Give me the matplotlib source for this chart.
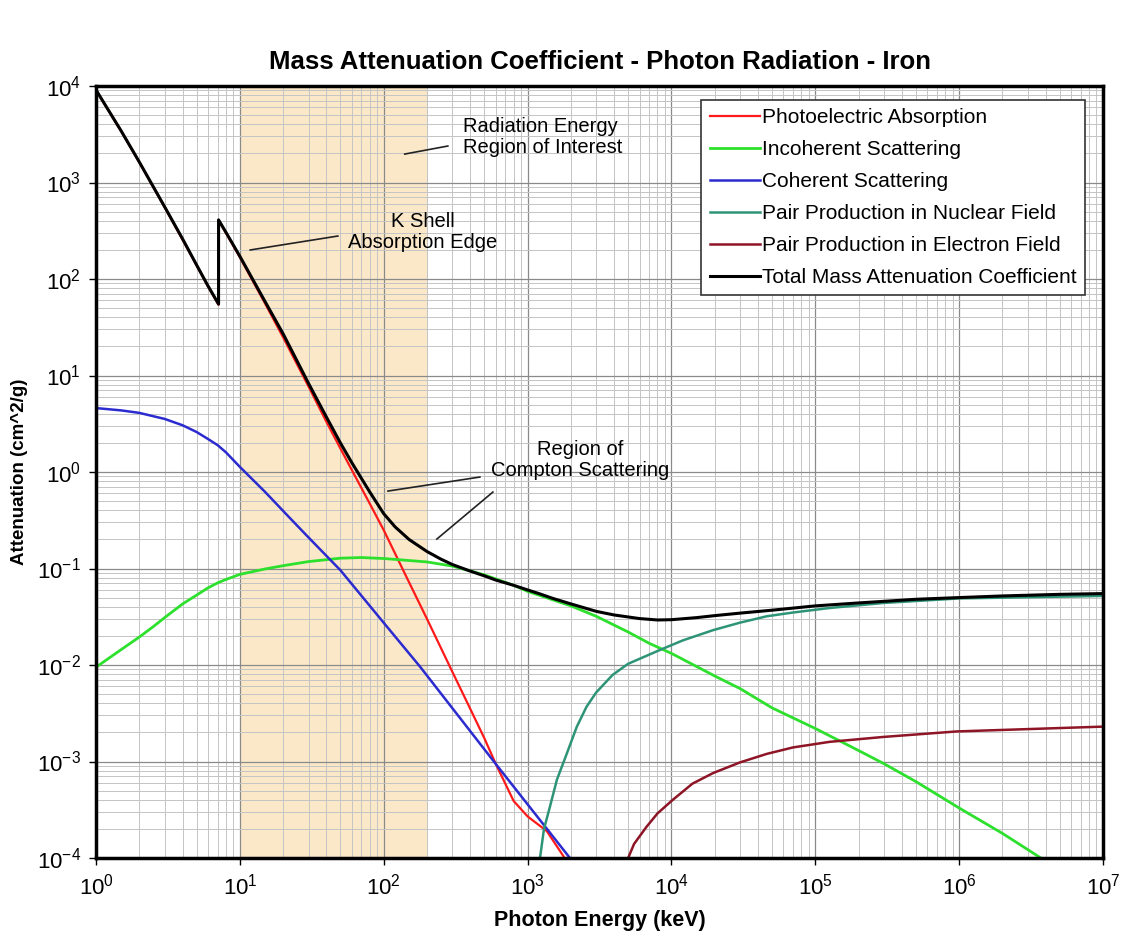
import numpy as np
import matplotlib
matplotlib.use("Agg")
import matplotlib.pyplot as plt

plt.rcParams['font.family'] = ['Liberation Sans', 'DejaVu Sans']

# photon energy (keV) and attenuation (cm^2/g)
e_total = [1, 1.5, 2, 3, 4, 5, 6, 7.11, 7.11, 8, 10, 15, 20, 30, 40, 50, 60, 80, 100,
           120, 150, 200, 250, 300, 400, 500, 600, 800, 1000, 1200, 1500, 2000, 3000,
           4000, 6000, 8000, 1e4, 1.5e4, 2e4, 3e4, 5e4, 1e5, 2e5, 5e5, 1e6, 2e6, 5e6, 1e7]
mu_total = [9.1e3, 3.4e3, 1.63e3, 5.6e2, 2.6e2, 1.4e2, 85, 55, 410, 305, 172, 58, 27,
            8.3, 3.7, 2.0, 1.25, 0.62, 0.37, 0.27, 0.20, 0.15, 0.125, 0.11, 0.094,
            0.084, 0.076, 0.067, 0.060, 0.055, 0.049, 0.043, 0.036, 0.033, 0.0303,
            0.0293, 0.0295, 0.031, 0.0325, 0.0345, 0.037, 0.041, 0.044, 0.048, 0.050,
            0.052, 0.054, 0.055]

e_photo = [1, 1.5, 2, 3, 4, 5, 6, 7.11, 7.11, 8, 10, 15, 20, 30, 40, 50, 60, 80, 100,
           150, 200, 300, 400, 500, 600, 800, 1000, 1360, 2000]
mu_photo = [9.05e3, 3.38e3, 1.62e3, 5.55e2, 2.55e2, 1.39e2, 84, 54, 405, 300, 168,
            55.5, 24.8, 7.7, 3.3, 1.75, 1.05, 0.47, 0.25, 0.072, 0.030, 0.0085,
            3.5e-3, 1.75e-3, 9.5e-4, 3.9e-4, 2.7e-4, 1.9e-4, 8e-5]

e_incoh = [1, 1.5, 2, 2.5, 3, 4, 5, 6, 7, 8, 10, 15, 20, 30, 50, 70, 100, 200, 300,
           500, 800, 1000, 2000, 3000, 5000, 7000, 1e4, 2e4, 3e4, 5e4, 1e5, 2e5, 3e5,
           5e5, 1e6, 2e6, 5e6]
mu_incoh = [0.0095, 0.0145, 0.0195, 0.025, 0.031, 0.043, 0.053, 0.063, 0.071, 0.077,
            0.087, 0.099, 0.107, 0.118, 0.128, 0.13, 0.127, 0.117, 0.106, 0.086,
            0.067, 0.058, 0.041, 0.032, 0.022, 0.0168, 0.0132, 0.0077, 0.0057,
            0.0036, 0.0022, 0.0013, 9.5e-4, 6.2e-4, 3.3e-4, 1.8e-4, 7.5e-5]

e_coh = [1, 1.5, 2, 3, 4, 5, 6, 7, 8, 10, 15, 22, 30, 50, 100, 179, 609, 1970, 2300]
mu_coh = [4.6, 4.35, 4.1, 3.55, 3.05, 2.6, 2.2, 1.9, 1.6, 1.13, 0.62, 0.34, 0.21,
          0.096, 0.0274, 9.6e-3, 9.2e-4, 1e-4, 7.5e-5]

e_pair_nuc = [1100, 1220, 1300, 1430, 1600, 1870, 2200, 2570, 3000, 3900, 5000, 8300,
              1.2e4, 1.95e4, 3e4, 4.6e4, 7e4, 1.26e5, 3e5, 1e6, 1e7]
mu_pair_nuc = [2e-5, 1e-4, 2e-4, 3.4e-4, 6.5e-4, 1.2e-3, 2.3e-3, 3.7e-3, 5.2e-3,
               7.9e-3, 0.0103, 0.0143, 0.018, 0.023, 0.0275, 0.032, 0.035, 0.039,
               0.044, 0.049, 0.052]

e_pair_el = [4500, 5000, 5500, 6700, 8000, 1.02e4, 1.4e4, 1.95e4, 3e4, 4.6e4, 7e4,
             1.26e5, 3e5, 9.6e5, 1e7]
mu_pair_el = [5e-5, 1e-4, 1.4e-4, 2.1e-4, 2.9e-4, 4.0e-4, 5.9e-4, 7.6e-4, 9.8e-4,
              1.2e-3, 1.4e-3, 1.6e-3, 1.8e-3, 2.05e-3, 2.3e-3]

x_ticks = [1, 10, 100, 1e3, 1e4, 1e5, 1e6, 1e7]
y_ticks = [1e-4, 1e-3, 1e-2, 1e-1, 1, 10, 100, 1e3, 1e4]

fig = plt.figure(figsize=(11.27, 9.36), dpi=100)
ax = fig.add_axes([0.0852, 0.0833, 0.8935, 0.8248])

# region of interest shading
ax.axvspan(10, 200, color='#FBE8C9', zorder=0, lw=0)

ax.plot(e_photo, mu_photo, color='#FF1A1A', lw=1.6, label='Photoelectric Absorption')
ax.plot(e_incoh, mu_incoh, color='#2EE02E', lw=2.0, label='Incoherent Scattering')
ax.plot(e_coh, mu_coh, color='#2B2BD0', lw=1.8, label='Coherent Scattering')
ax.plot(e_pair_nuc, mu_pair_nuc, color='#2E9477', lw=1.8, label='Pair Production in Nuclear Field')
ax.plot(e_pair_el, mu_pair_el, color='#8E1526', lw=1.8, label='Pair Production in Electron Field')
ax.plot(e_total, mu_total, color='black', lw=2.2, label='Total Mass Attenuation Coefficient')

ax.set_xscale('log')
ax.set_yscale('log')
ax.set_xlim(1, 1e7)
ax.set_ylim(1e-4, 1e4)

ax.set_xticks(x_ticks)
ax.set_yticks(y_ticks)
ax.xaxis.set_minor_locator(matplotlib.ticker.LogLocator(base=10, subs=np.arange(2, 10), numticks=100))
ax.yaxis.set_minor_locator(matplotlib.ticker.LogLocator(base=10, subs=np.arange(2, 10), numticks=100))
ax.xaxis.set_minor_formatter(matplotlib.ticker.NullFormatter())
ax.yaxis.set_minor_formatter(matplotlib.ticker.NullFormatter())

ax.grid(True, which='major', color='#8a8a8a', lw=0.9)
ax.grid(True, which='minor', color='#c4c4c4', lw=0.7)
ax.set_axisbelow(True)
ax.tick_params(which='major', direction='out', length=5, width=1, labelsize=16, pad=6)
ax.tick_params(which='minor', length=0)
for s in ax.spines.values():
    s.set_linewidth(2.5)

ax.set_title('Mass Attenuation Coefficient - Photon Radiation - Iron',
             fontsize=18.5, fontweight='bold', pad=12)
ax.set_xlabel('Photon Energy (keV)', fontsize=15.5, fontweight='bold', labelpad=8)
ax.set_ylabel('Attenuation (cm^2/g)', fontsize=13.5, fontweight='bold', labelpad=6)

leg = ax.legend(loc='upper right', bbox_to_anchor=(0.982, 0.982), fontsize=15,
                frameon=True, fancybox=False, edgecolor='#333333', framealpha=1,
                handlelength=2.4, handletextpad=0.1, labelspacing=0.62,
                borderpad=0.4, borderaxespad=0)
leg.get_frame().set_linewidth(1.2)

# annotations
ax.text(355, 2960, 'Radiation Energy\nRegion of Interest', fontsize=14.5,
        ha='left', va='center', linespacing=1.1)
ax.plot([140, 279], [1972, 2389], color='#222222', lw=1.2)

ax.text(187, 307, 'K Shell\nAbsorption Edge', fontsize=14.5, ha='center',
        va='center', linespacing=1.1)
ax.plot([11.8, 48], [200, 279], color='#222222', lw=1.2)

ax.text(2308, 1.33, 'Region of\nCompton Scattering', fontsize=14.5, ha='center',
        va='center', linespacing=1.1)
ax.plot([107, 466], [0.635, 0.887], color='#222222', lw=1.2)
ax.plot([234, 574], [0.202, 0.62], color='#222222', lw=1.2)

fig.savefig('out.png', dpi=100)
